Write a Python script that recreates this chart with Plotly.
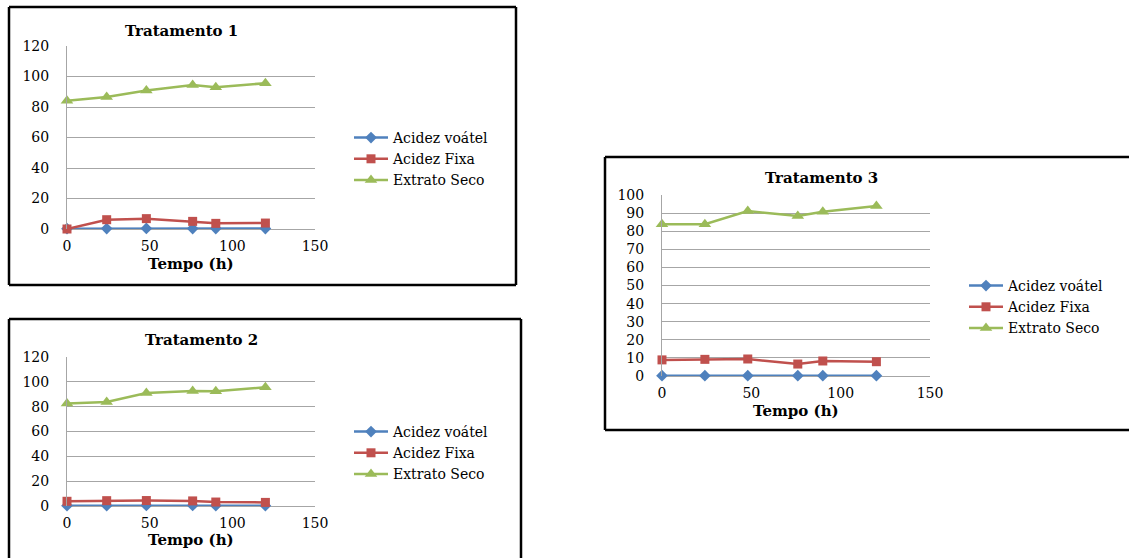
import plotly.graph_objects as go

W, H = 1129, 558

# Sampling times (hours)
tempo = [0, 24, 48, 76, 90, 120]

series_names = ["Acidez voátel", "Acidez Fixa", "Extrato Seco"]
panel_titles = ["Tratamento 1", "Tratamento 2", "Tratamento 3"]
x_title = "Tempo (h)"

# Tratamento 1
t1_volatil = [0.2, 0.3, 0.4, 0.3, 0.3, 0.3]
t1_fixa = [0.0, 6.1, 6.8, 5.0, 3.7, 3.9]
t1_seco = [84.1, 86.5, 90.8, 94.5, 93.0, 95.6]

# Tratamento 2
t2_volatil = [0.3, 0.3, 0.4, 0.4, 0.3, 0.3]
t2_fixa = [3.8, 4.3, 4.4, 4.1, 3.2, 2.9]
t2_seco = [82.5, 83.8, 91.0, 92.7, 92.4, 95.6]

# Tratamento 3
t3_volatil = [0.2, 0.2, 0.2, 0.2, 0.2, 0.2]
t3_fixa = [8.9, 9.2, 9.4, 6.6, 8.3, 7.9]
t3_seco = [83.9, 83.9, 91.1, 88.4, 90.8, 93.9]

x_ticks = [0, 50, 100, 150]
y_ticks_12 = [0, 20, 40, 60, 80, 100, 120]
y_ticks_3 = [0, 10, 20, 30, 40, 50, 60, 70, 80, 90, 100]

colors = ["#4F81BD", "#C0504D", "#9BBB59"]
symbols = ["diamond", "square", "triangle-up"]
msizes = [9, 9, 11]
FONT = "DejaVu Serif"
GRID = "#a6a6a6"


def fx(px):
    return px / W


def fy(py):
    return 1 - py / H


# Frame edges per panel: (x0, x1, y0, y1) in pixels; edges flagged False run
# off the page and are not drawn.
panels = [
    dict(data=[t1_volatil, t1_fixa, t1_seco], yticks=y_ticks_12,
         plot=(67, 315, 46, 229), box=(9, 516, 7, 285),
         edges=dict(left=True, right=True, top=True, bottom=True),
         title=(181, 31), xlab=(191, 264), legend=(349, 122)),
    dict(data=[t2_volatil, t2_fixa, t2_seco], yticks=y_ticks_12,
         plot=(67, 315, 357, 506), box=(9, 521, 319, 558),
         edges=dict(left=True, right=True, top=True, bottom=False),
         title=(201, 340), xlab=(191, 540), legend=(349, 416)),
    dict(data=[t3_volatil, t3_fixa, t3_seco], yticks=y_ticks_3,
         plot=(662, 930, 195, 376), box=(605, 1129, 157, 430),
         edges=dict(left=True, right=False, top=True, bottom=True),
         title=(821, 178), xlab=(796, 411), legend=(964, 270)),
]

fig = go.Figure()
shapes = []
annotations = []
layout = {}


def frame_line(xa0, ya0, xa1, ya1):
    return dict(type="line", xref="paper", yref="paper",
                x0=fx(xa0), y0=fy(ya0), x1=fx(xa1), y1=fy(ya1),
                line=dict(color="black", width=2.5))


for i, p in enumerate(panels):
    n = i + 1
    xa = "x" if n == 1 else f"x{n}"
    ya = "y" if n == 1 else f"y{n}"
    lg = "legend" if n == 1 else f"legend{n}"
    for k in range(3):
        fig.add_trace(go.Scatter(
            x=tempo, y=p["data"][k], name=series_names[k],
            mode="lines+markers", xaxis=xa, yaxis=ya, legend=lg,
            line=dict(color=colors[k], width=2.5),
            marker=dict(symbol=symbols[k], size=msizes[k], color=colors[k]),
            cliponaxis=False,
        ))
    x0, x1, y0, y1 = p["plot"]
    xkey = "xaxis" if n == 1 else f"xaxis{n}"
    ykey = "yaxis" if n == 1 else f"yaxis{n}"
    layout[xkey] = dict(
        domain=[fx(x0), fx(x1)], range=[0, 150], tickvals=x_ticks,
        showgrid=False, zeroline=False, showline=False,
        ticks="outside", ticklen=4, tickcolor="rgba(0,0,0,0)",
        tickfont=dict(family=FONT, size=14, color="black"),
        anchor=ya, fixedrange=True, automargin=False,
    )
    yt = p["yticks"]
    layout[ykey] = dict(
        domain=[fy(y1), fy(y0)], range=[0, yt[-1]], tickvals=yt,
        showgrid=True, gridcolor=GRID, gridwidth=1,
        zeroline=True, zerolinecolor=GRID, zerolinewidth=1,
        showline=True, linecolor=GRID, linewidth=1,
        ticks="outside", ticklen=14, tickcolor="rgba(0,0,0,0)",
        tickfont=dict(family=FONT, size=14, color="black"),
        anchor=xa, fixedrange=True, automargin=False,
    )
    lx, ly = p["legend"]
    layout[lg] = dict(
        x=fx(lx), y=fy(ly), xanchor="left", yanchor="top",
        bgcolor="rgba(0,0,0,0)", borderwidth=0, itemwidth=34,
        font=dict(family=FONT, size=14, color="black"),
        tracegroupgap=0,
    )
    bx0, bx1, by0, by1 = p["box"]
    e = p["edges"]
    if e["left"]:
        shapes.append(frame_line(bx0, by0, bx0, by1))
    if e["right"]:
        shapes.append(frame_line(bx1, by0, bx1, by1))
    if e["top"]:
        shapes.append(frame_line(bx0, by0, bx1, by0))
    if e["bottom"]:
        shapes.append(frame_line(bx0, by1, bx1, by1))
    tx, ty = p["title"]
    annotations.append(dict(text=f"<b>{panel_titles[i]}</b>", xref="paper", yref="paper",
                            x=fx(tx), y=fy(ty), xanchor="center", yanchor="middle",
                            showarrow=False, font=dict(family=FONT, size=15, color="black")))
    ax_, ay_ = p["xlab"]
    annotations.append(dict(text=f"<b>{x_title}</b>", xref="paper", yref="paper",
                            x=fx(ax_), y=fy(ay_), xanchor="center", yanchor="middle",
                            showarrow=False, font=dict(family=FONT, size=15, color="black")))

fig.update_layout(
    width=W, height=H,
    margin=dict(l=0, r=0, t=0, b=0, pad=0, autoexpand=False),
    paper_bgcolor="white", plot_bgcolor="white",
    showlegend=True,
    shapes=shapes, annotations=annotations,
    **layout,
)

fig.write_html("out.html", config={"displayModeBar": False})
